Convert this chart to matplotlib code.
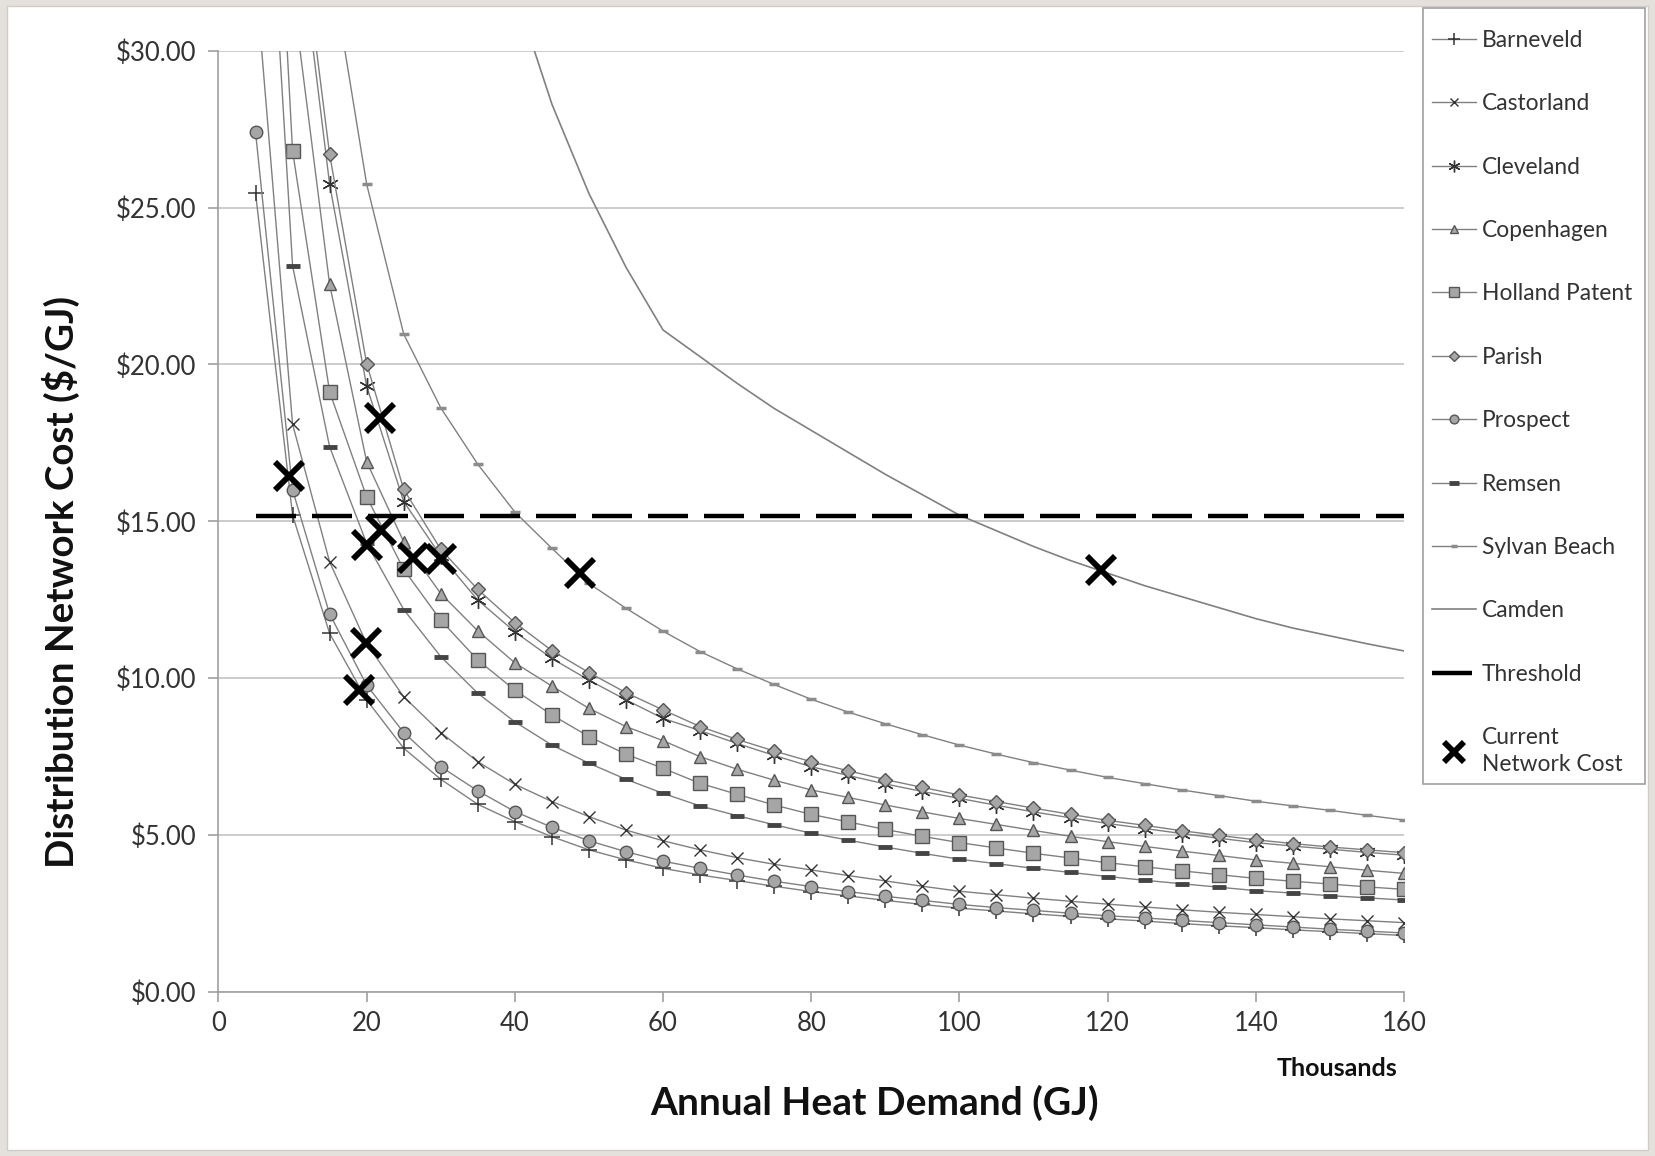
import numpy as np
import matplotlib
matplotlib.use("Agg")
import matplotlib.pyplot as plt
from matplotlib.ticker import FuncFormatter, MultipleLocator
from matplotlib.patches import Rectangle

plt.rcParams['font.family'] = ['Lato', 'DejaVu Sans']

nan = np.nan

# annual heat demand, thousands of GJ
demand = [5, 10, 15, 20, 25, 30, 35, 40, 45, 50, 55, 60, 65, 70, 75, 80,
          85, 90, 95, 100, 105, 110, 115, 120, 125, 130, 135, 140, 145, 150, 155, 160]

barneveld = [25.48, 15.2, 11.43, 9.31, 7.77, 6.78, 5.98, 5.43, 4.95, 4.53, 4.21, 3.94,
             3.73, 3.55, 3.37, 3.20, 3.06, 2.92, 2.79, 2.67, 2.58, 2.49, 2.41, 2.33,
             2.26, 2.18, 2.11, 2.05, 1.98, 1.92, 1.86, 1.80]
castorland = [32.4, 18.10, 13.71, 11.1, 9.41, 8.27, 7.34, 6.62, 6.07, 5.59, 5.16, 4.82,
              4.53, 4.28, 4.07, 3.89, 3.71, 3.54, 3.37, 3.21, 3.10, 2.99, 2.89, 2.80,
              2.71, 2.62, 2.54, 2.47, 2.40, 2.33, 2.27, 2.21]
cleveland = [nan, 35.4, 25.75, 19.31, 15.63, 13.9, 12.49, 11.48, 10.63, 9.94, 9.31, 8.72,
             8.33, 7.92, 7.54, 7.18, 6.90, 6.63, 6.39, 6.17, 5.95, 5.74, 5.55, 5.37,
             5.21, 5.05, 4.90, 4.76, 4.65, 4.55, 4.45, 4.36]
copenhagen = [nan, 31.9, 22.56, 16.9, 14.35, 12.70, 11.51, 10.49, 9.75, 9.04, 8.46, 8.01,
              7.50, 7.10, 6.75, 6.44, 6.20, 5.96, 5.74, 5.53, 5.34, 5.15, 4.96, 4.79,
              4.64, 4.49, 4.35, 4.21, 4.10, 3.99, 3.88, 3.78]
holland_patent = [49.0, 26.81, 19.13, 15.78, 13.47, 11.85, 10.58, 9.62, 8.83, 8.14, 7.58, 7.13,
                  6.65, 6.30, 5.96, 5.66, 5.42, 5.18, 4.96, 4.76, 4.59, 4.42, 4.27, 4.12,
                  3.99, 3.86, 3.74, 3.62, 3.53, 3.44, 3.35, 3.27]
parish = [nan, 36.1, 26.7, 20.03, 16.02, 14.11, 12.83, 11.77, 10.88, 10.18, 9.54, 8.99,
          8.46, 8.05, 7.68, 7.34, 7.05, 6.77, 6.52, 6.28, 6.07, 5.86, 5.66, 5.47,
          5.31, 5.14, 4.99, 4.85, 4.73, 4.62, 4.53, 4.44]
prospect = [27.42, 16.0, 12.05, 9.78, 8.27, 7.18, 6.41, 5.75, 5.25, 4.82, 4.47, 4.17,
            3.94, 3.73, 3.53, 3.36, 3.20, 3.05, 2.92, 2.79, 2.69, 2.60, 2.51, 2.43,
            2.36, 2.28, 2.21, 2.14, 2.07, 2.00, 1.94, 1.88]
remsen = [43.0, 23.15, 17.38, 14.3, 12.19, 10.69, 9.52, 8.61, 7.87, 7.29, 6.78, 6.33,
          5.93, 5.62, 5.33, 5.06, 4.84, 4.62, 4.42, 4.23, 4.09, 3.94, 3.81, 3.68,
          3.56, 3.45, 3.34, 3.23, 3.15, 3.07, 3.00, 2.93]
sylvan_beach = [nan, nan, 33.0, 25.75, 20.97, 18.62, 16.82, 15.30, 14.14, 13.02, 12.23, 11.5,
                10.85, 10.3, 9.80, 9.33, 8.92, 8.55, 8.20, 7.87, 7.58, 7.31, 7.07, 6.84,
                6.64, 6.44, 6.26, 6.08, 5.93, 5.79, 5.63, 5.48]
camden = [nan, nan, nan, nan, nan, nan, nan, 31.9, 28.3, 25.45, 23.1, 21.1,
          20.25, 19.4, 18.6, 17.9, 17.2, 16.5, 15.85, 15.2, 14.7, 14.2, 13.75, 13.35,
          12.95, 12.6, 12.25, 11.9, 11.6, 11.35, 11.1, 10.87]
threshold = 15.17

current_demand = [9.5, 21.8, 20.0, 22.0, 26.3, 30.1, 48.8, 119.1, 19.9, 19.0]
current_cost = [16.45, 18.28, 14.25, 14.73, 13.83, 13.79, 13.35, 13.45, 11.13, 9.63]

line_c = '#808080'
face_c = '#a6a6a6'
edge_c = '#555555'

W, H = 1655, 1156
fig = plt.figure(figsize=(W / 100, H / 100), dpi=100)
fig.patch.set_facecolor('#e4e1dd')
# white page inside the grey screenshot border
fig.patches.append(Rectangle((7 / W, 6 / H), 1 - 14 / W, 1 - 12 / H,
                             transform=fig.transFigure, facecolor='white',
                             edgecolor='#d0cdc9', lw=1, zorder=-10))
# legend frame
fig.patches.append(Rectangle((1423 / W, 1 - 784 / H), 222 / W, 775.6 / H,
                             transform=fig.transFigure, facecolor='white',
                             edgecolor='#a0a0a0', lw=1.2, zorder=1))

ax = fig.add_axes([0.132, 0.1419, 0.7163, 0.8142])
ax.set_facecolor('none')
ax.set_zorder(2)

common = dict(color=line_c, lw=1.0, mec=edge_c, mfc=face_c)
ax.plot(demand, barneveld, marker='+', ms=12, mew=1.1, mec='#333333', label='Barneveld',
        color=line_c, lw=1.0)
ax.plot(demand, castorland, marker='x', ms=8, mew=1.0, mec='#333333', label='Castorland',
        color=line_c, lw=1.0)
ax.plot(demand, cleveland, marker=(6, 2, 0), ms=12, mew=1.0, mec='#333333', label='Cleveland',
        color=line_c, lw=1.0)
ax.plot(demand, copenhagen, marker='^', ms=9, mew=1.0, label='Copenhagen', **common)
ax.plot(demand, holland_patent, marker='s', ms=9.5, mew=1.0, label='Holland Patent', **common)
ax.plot(demand, parish, marker='D', ms=7, mew=1.0, label='Parish', **common)
ax.plot(demand, prospect, marker='o', ms=9, mew=1.0, label='Prospect', **common)
ax.plot(demand, remsen, marker='_', ms=10, mew=3.5, mec='#444444', label='Remsen',
        color=line_c, lw=1.0)
ax.plot(demand, sylvan_beach, marker='_', ms=7, mew=2.5, mec='#8c8c8c', label='Sylvan Beach',
        color=line_c, lw=1.0)
ax.plot(demand, camden, color=line_c, lw=1.2, label='Camden')
ax.plot([demand[0], demand[-1]], [threshold, threshold], color='black', lw=3.2,
        dashes=(9, 3.6), label='Threshold')
ax.plot(current_demand, current_cost, ls='none', marker='x', ms=20, mew=4.2,
        color='black', label='Current\nNetwork Cost', zorder=5)

ax.set_xlim(0, 160)
ax.set_ylim(0, 30)
ax.xaxis.set_major_locator(MultipleLocator(20))
ax.yaxis.set_major_locator(MultipleLocator(5))
ax.yaxis.set_major_formatter(FuncFormatter(lambda v, p: '\\$%.2f' % v))
ax.grid(axis='y', color='#c8c8c8', lw=1.3)
ax.set_axisbelow(True)
for s in ['top', 'right']:
    ax.spines[s].set_visible(False)
for s in ['left', 'bottom']:
    ax.spines[s].set_color('#a0a0a0')
    ax.spines[s].set_linewidth(1.2)
ax.tick_params(axis='both', colors='#a0a0a0', labelcolor='#333333', labelsize=18.5,
               length=7, width=1.2, direction='out')
ax.tick_params(axis='x', pad=7)
ax.tick_params(axis='y', pad=9)

fig.text(61 / W, 1 - 582 / H, 'Distribution Network Cost (\\$/GJ)', rotation=90,
         ha='center', va='center', fontsize=27.7, fontweight='bold', color='#111111')
fig.text(875 / W, 1 - 1103 / H, 'Annual Heat Demand (GJ)', ha='center', va='center',
         fontsize=28, fontweight='bold', color='#111111')
fig.text(1337 / W, 1 - 1069 / H, 'Thousands', ha='center', va='center',
         fontsize=18, fontweight='bold', color='#111111')

leg = ax.legend(loc='upper left', bbox_to_anchor=(1432 / W, 1 - 30 / H),
                bbox_transform=fig.transFigure, frameon=False, fontsize=16.4,
                labelspacing=1.86, handlelength=1.93, handletextpad=0.27,
                borderpad=0, borderaxespad=0, markerscale=0.7)
for t in leg.get_texts():
    t.set_color('#333333')
    t.set_linespacing(1.35)

fig.savefig('out.png', dpi=100, facecolor=fig.get_facecolor())
